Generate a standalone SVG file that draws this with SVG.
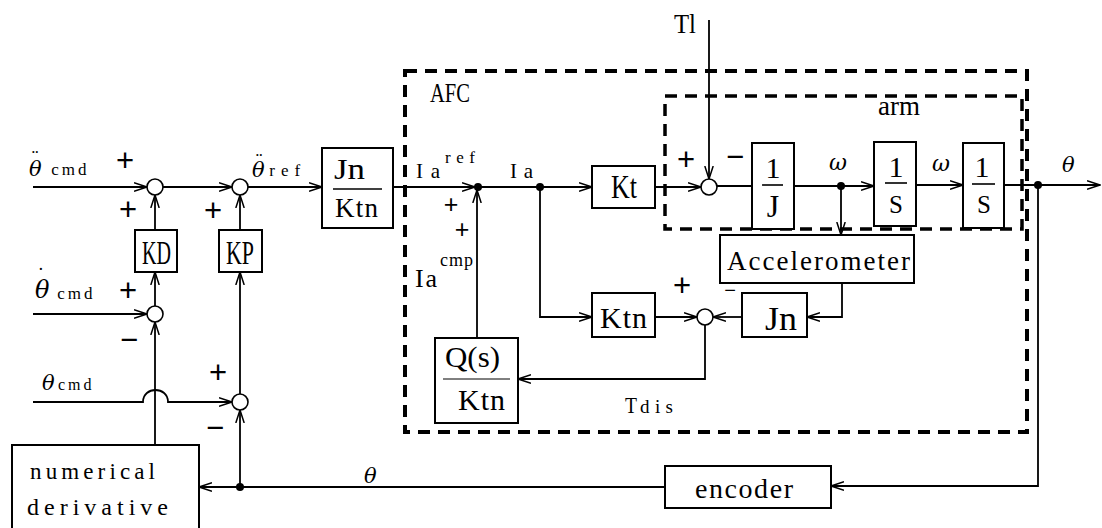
<svg xmlns="http://www.w3.org/2000/svg" width="1102" height="528" viewBox="0 0 1102 528">
<style>
.t{font-family:"Liberation Serif","DejaVu Serif",serif;fill:#000}
.g{font-family:"DejaVu Serif","Liberation Serif",serif;font-style:italic;fill:#000}
.s{font-family:"Liberation Sans",sans-serif;fill:#000;text-anchor:middle}
.acc{font-family:"Liberation Serif",serif;font-style:normal;font-size:20px}
.sub{font-family:"Liberation Serif",serif;font-style:normal;font-size:17px;letter-spacing:3px}
.box{fill:#fff;stroke:#000;stroke-width:2}
.sum{fill:#fff;stroke:#000;stroke-width:1.6}
.ln{fill:none;stroke:#000;stroke-width:1.8}
.fr{stroke:#000;stroke-width:1.6}
.dash{fill:none;stroke:#000;stroke-dasharray:12 8}
.dot{fill:#000}
</style>
<defs>
<marker id="arr" markerUnits="userSpaceOnUse" markerWidth="14" markerHeight="10" refX="13" refY="5" orient="auto" viewBox="0 0 14 10">
<path d="M0,0.8 L13,5 L0,9.2" fill="none" stroke="#000" stroke-width="1.5"/>
</marker>
</defs>
<rect width="1102" height="528" fill="#fff"/>

<g id="afc-frame">
<rect class="dash" x="405" y="71" width="622" height="361" stroke-width="4"/>
<text class="t" x="430" y="102" font-size="28" textLength="40" lengthAdjust="spacingAndGlyphs">AFC</text>
</g>
<g id="arm-frame">
<rect class="dash" x="665" y="96" width="357" height="133" stroke-width="3.5"/>
<text class="t" x="878" y="115" font-size="28" textLength="42" lengthAdjust="spacingAndGlyphs">arm</text>
</g>

<g id="connectors">
<path class="ln" d="M33,187 H147" marker-end="url(#arr)"/>
<path class="ln" d="M163,187 H232" marker-end="url(#arr)"/>
<path class="ln" d="M248,187 H322" marker-end="url(#arr)"/>
<path class="ln" d="M393,187 H475" marker-end="url(#arr)"/>
<path class="ln" d="M478,187 H540"/>
<path class="ln" d="M540,187 H592" marker-end="url(#arr)"/>
<path class="ln" d="M655,187 H701" marker-end="url(#arr)"/>
<path class="ln" d="M709,20 V179" marker-end="url(#arr)"/>
<path class="ln" d="M717,186 H752"/>
<path class="ln" d="M794,186 H874" marker-end="url(#arr)"/>
<path class="ln" d="M916,185 H963" marker-end="url(#arr)"/>
<path class="ln" d="M1004,185 H1100" marker-end="url(#arr)"/>
<path class="ln" d="M841,186 V235" marker-end="url(#arr)"/>
<path class="ln" d="M842,283 V317 H807" marker-end="url(#arr)"/>
<path class="ln" d="M742,317 H713" marker-end="url(#arr)"/>
<path class="ln" d="M540,187 V317 H592" marker-end="url(#arr)"/>
<path class="ln" d="M655,317 H697" marker-end="url(#arr)"/>
<path class="ln" d="M705,325 V379 H518" marker-end="url(#arr)"/>
<path class="ln" d="M477,338 V190" marker-end="url(#arr)"/>
<path class="ln" d="M1038,185 V486 H831" marker-end="url(#arr)"/>
<path class="ln" d="M665,487 H199" marker-end="url(#arr)"/>
<path class="ln" d="M240,487 V410" marker-end="url(#arr)"/>
<path class="ln" d="M240,394 V272" marker-end="url(#arr)"/>
<path class="ln" d="M240,230 V195" marker-end="url(#arr)"/>
<path class="ln" d="M33,402 H143 C143,386 168,386 168,402 H232" marker-end="url(#arr)"/>
<path class="ln" d="M33,314 H147" marker-end="url(#arr)"/>
<path class="ln" d="M155,445 V322" marker-end="url(#arr)"/>
<path class="ln" d="M155,306 V272" marker-end="url(#arr)"/>
<path class="ln" d="M155,230 V195" marker-end="url(#arr)"/>
<circle class="dot" cx="478" cy="187" r="4"/>
<circle class="dot" cx="540" cy="187" r="4"/>
<circle class="dot" cx="841" cy="186" r="4"/>
<circle class="dot" cx="1038" cy="185" r="4"/>
<circle class="dot" cx="240" cy="487" r="4"/>
</g>

<g id="sum1"><circle class="sum" cx="155" cy="187" r="8"/></g>
<g id="sum2"><circle class="sum" cx="240" cy="187" r="8"/></g>
<g id="sum3"><circle class="sum" cx="155" cy="314" r="8"/></g>
<g id="sum4"><circle class="sum" cx="240" cy="402" r="8"/></g>
<g id="sum-arm"><circle class="sum" cx="709" cy="187" r="8"/></g>
<g id="sum-dis"><circle class="sum" cx="705" cy="317" r="8"/></g>

<g id="kd"><rect class="box" x="135" y="230" width="42" height="42"/>
<text class="t" x="142" y="264" font-size="34" textLength="29" lengthAdjust="spacingAndGlyphs">KD</text></g>
<g id="kp"><rect class="box" x="219" y="230" width="43" height="42"/>
<text class="t" x="226" y="264" font-size="34" textLength="28" lengthAdjust="spacingAndGlyphs">KP</text></g>
<g id="jn-ktn"><rect class="box" x="322" y="148" width="71" height="80"/>
<text class="t" x="334" y="179" font-size="30" textLength="31" lengthAdjust="spacingAndGlyphs">Jn</text>
<line class="fr" x1="333" y1="189" x2="382" y2="189"/>
<text class="t" x="335" y="217" font-size="27" textLength="43">Ktn</text></g>
<g id="kt"><rect class="box" x="592" y="166" width="63" height="42"/>
<text class="t" x="611" y="198" font-size="33" textLength="26" lengthAdjust="spacingAndGlyphs">Kt</text></g>
<g id="ktn"><rect class="box" x="592" y="293" width="63" height="44"/>
<text class="t" x="600" y="328" font-size="30" textLength="47">Ktn</text></g>
<g id="jn"><rect class="box" x="742" y="293" width="65" height="44"/>
<text class="t" x="765" y="330" font-size="33" textLength="32" lengthAdjust="spacingAndGlyphs">Jn</text></g>
<g id="accelerometer"><rect class="box" x="720" y="235" width="194" height="48"/>
<text class="t" x="727" y="270" font-size="27" textLength="183">Accelerometer</text></g>
<g id="one-over-j"><rect class="box" x="752" y="143" width="42" height="86"/>
<text class="t" x="773" y="178" font-size="30" text-anchor="middle">1</text>
<line class="fr" x1="762" y1="185" x2="783" y2="185"/>
<text class="t" x="773" y="217" font-size="32" text-anchor="middle">J</text></g>
<g id="one-over-s1"><rect class="box" x="874" y="142" width="42" height="84"/>
<text class="t" x="896" y="177" font-size="30" text-anchor="middle">1</text>
<line class="fr" x1="885" y1="183" x2="907" y2="183"/>
<text class="t" x="896" y="213" font-size="25" text-anchor="middle">S</text></g>
<g id="one-over-s2"><rect class="box" x="963" y="143" width="41" height="85"/>
<text class="t" x="982" y="177" font-size="30" text-anchor="middle">1</text>
<line class="fr" x1="972" y1="184" x2="995" y2="184"/>
<text class="t" x="984" y="213" font-size="25" text-anchor="middle">S</text></g>
<g id="q-ktn"><rect class="box" x="435" y="338" width="83" height="85"/>
<text class="t" x="445" y="367" font-size="30" textLength="55" lengthAdjust="spacingAndGlyphs">Q(s)</text>
<line x1="443" y1="379" x2="510" y2="379" stroke="#000" stroke-width="1"/>
<text class="t" x="458" y="410" font-size="30" textLength="47">Ktn</text></g>
<g id="encoder"><rect class="box" x="665" y="466" width="166" height="42"/>
<text class="t" x="695" y="498" font-size="28" textLength="98">encoder</text></g>
<g id="numerical-derivative"><rect class="box" x="12" y="445" width="187" height="95"/>
<text class="t" x="30" y="479" font-size="23" textLength="125">numerical</text>
<text class="t" x="27" y="515" font-size="24" textLength="141">derivative</text></g>

<g id="labels">
<text class="g" x="29" y="176" font-size="21">&#952;<tspan class="acc" dx="-10" dy="-12">&#168;</tspan><tspan class="sub" dx="13" dy="11">cmd</tspan></text>
<text class="g" x="252" y="177" font-size="21">&#952;<tspan class="acc" dx="-9" dy="-10">&#168;</tspan><tspan class="sub" dx="7" dy="9" style="letter-spacing:6px">ref</tspan></text>
<text class="g" x="35" y="298" font-size="24">&#952;<tspan class="acc" dx="-12" dy="-16">&#729;</tspan><tspan class="sub" dx="13" dy="17">cmd</tspan></text>
<text class="g" x="42" y="390" font-size="21">&#952;<tspan class="sub" x="58" y="390" style="font-size:16px">cmd</tspan></text>
<text class="g" x="364" y="483" font-size="21">&#952;</text>
<text class="g" x="1062" y="172" font-size="21">&#952;</text>
<text class="g" x="829" y="170" font-size="22">&#969;</text>
<text class="g" x="932" y="171" font-size="22">&#969;</text>
<text class="t" x="674" y="33" font-size="28" textLength="22" lengthAdjust="spacingAndGlyphs">Tl</text>
<text class="t" x="416" y="178" font-size="21" textLength="24">Ia</text>
<text class="t" x="445" y="163" font-size="17" textLength="30">ref</text>
<text class="t" x="510" y="178" font-size="21" textLength="23">Ia</text>
<text class="t" x="415" y="287" font-size="26" textLength="22">Ia</text>
<text class="t" x="440" y="266" font-size="18" textLength="33">cmp</text>
<text class="t" x="625" y="413" font-size="23" textLength="12" lengthAdjust="spacingAndGlyphs">T</text>
<text class="t" x="640" y="413" font-size="19" textLength="33">dis</text>
<text class="s" x="125" y="171" font-size="31">+</text>
<text class="s" x="128" y="220" font-size="31">+</text>
<text class="s" x="213" y="221" font-size="31">+</text>
<text class="s" x="128" y="301" font-size="31">+</text>
<text class="s" x="218" y="383" font-size="31">+</text>
<text class="s" x="451" y="213" font-size="25">+</text>
<text class="s" x="462" y="238" font-size="25">+</text>
<text class="s" x="686" y="170" font-size="31">+</text>
<text class="s" x="682" y="296" font-size="31">+</text>
<text class="s" x="129" y="350" font-size="31">&#8722;</text>
<text class="s" x="215" y="438" font-size="31">&#8722;</text>
<text class="s" x="735" y="167" font-size="31">&#8722;</text>
<text class="s" x="730" y="297" font-size="20">&#8722;</text>
</g>
</svg>
